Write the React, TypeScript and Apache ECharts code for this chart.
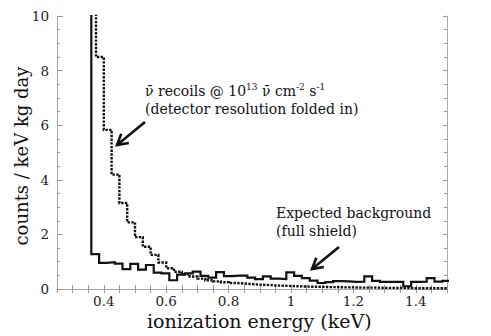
import React, { useEffect, useRef } from "react";
import * as echarts from "echarts";

// ---- data ----
const binWidth = 0.025;
// expected background (solid), bins start at 0.36 keV
const solidStart = 0.36;
const solidLead = 30; // off-scale bin just below threshold
const solidValues = [
  1.28, 0.96, 0.98, 0.93, 0.73, 0.92, 0.71, 0.88, 0.6, 0.57,
  0.32, 0.53, 0.57, 0.64, 0.48, 0.42, 0.62, 0.47, 0.49, 0.49,
  0.42, 0.36, 0.46, 0.38, 0.36, 0.61, 0.48, 0.4, 0.31, 0.22,
  0.25, 0.29, 0.28, 0.26, 0.27, 0.46, 0.3, 0.26, 0.26, 0.26,
  0.1, 0.26, 0.27, 0.4, 0.27, 0.3,
];
// antineutrino recoils (dotted), bins start at 0.375 keV
const dottedStart = 0.375;
const dottedLead = 30;
const dottedValues = [
  8.5, 5.83, 4.19, 3.15, 2.44, 1.9, 1.55, 1.25, 0.97, 0.76,
  0.63, 0.54, 0.46, 0.38, 0.32,
  0.28, 0.25, 0.22, 0.2, 0.18, 0.16, 0.15, 0.13, 0.12, 0.11,
  0.1, 0.09, 0.08, 0.08, 0.07, 0.07, 0.06, 0.06, 0.05, 0.05,
  0.05, 0.04, 0.04, 0.04, 0.04, 0.03, 0.03, 0.03, 0.03, 0.03,
];
const xLabels = [0.4, 0.6, 0.8, 1, 1.2, 1.4];
const yTicks = [0, 2, 4, 6, 8, 10];

const FONT = "DejaVu Serif";
const INK = "#111";

function stepData(start: number, lead: number, values: number[]) {
  const pts: number[][] = [[+(start - binWidth).toFixed(4), lead]];
  values.forEach((v, i) => pts.push([+(start + i * binWidth).toFixed(4), v]));
  pts.push([+(start + values.length * binWidth).toFixed(4), values[values.length - 1]]);
  return pts;
}

function arrow(x1: number, y1: number, x2: number, y2: number, len: number) {
  const dx = x2 - x1;
  const dy = y2 - y1;
  const L = Math.hypot(dx, dy);
  const bx = -dx / L;
  const by = -dy / L;
  const a = Math.PI / 6;
  const w1 = [x2 + len * (bx * Math.cos(a) - by * Math.sin(a)), y2 + len * (bx * Math.sin(a) + by * Math.cos(a))];
  const w2 = [x2 + len * (bx * Math.cos(a) + by * Math.sin(a)), y2 + len * (-bx * Math.sin(a) + by * Math.cos(a))];
  const style = { stroke: INK, lineWidth: 2.6, fill: "none", lineCap: "butt" as const };
  return [
    { type: "line", shape: { x1, y1, x2, y2 }, style },
    { type: "polyline", shape: { points: [w1, [x2, y2], w2] }, style },
  ];
}

const xFormatter = (v: number) => {
  const r = Math.round(v * 100);
  const hit = xLabels.some((l) => Math.round(l * 100) === r);
  return hit ? String(Math.round(v * 10) / 10) : "";
};

export default function App() {
  const ref = useRef<HTMLDivElement>(null);
  useEffect(() => {
    if (!ref.current) return;
    const chart = echarts.init(ref.current, undefined, { renderer: "svg" });
    const axisLine = { show: true, lineStyle: { color: "#aaa", width: 1 } };
    const tickStyle = { color: "#999", width: 1 };
    const labelStyle = { fontFamily: FONT, fontSize: 13.5, color: "#222", lineHeight: 14 };
    chart.setOption({
      animation: false,
      backgroundColor: "#fff",
      grid: { left: 57, right: 44, top: 16, bottom: 47 },
      xAxis: [
        {
          type: "value",
          min: 0.25,
          max: 1.5,
          interval: 0.05,
          position: "bottom",
          axisLine,
          axisTick: { show: true, inside: true, length: 4, lineStyle: tickStyle },
          axisLabel: { ...labelStyle, margin: 5, formatter: xFormatter, showMinLabel: true, showMaxLabel: true },
          splitLine: { show: false },
        },
        {
          type: "value",
          min: 0.25,
          max: 1.5,
          interval: 0.05,
          position: "top",
          axisLine,
          axisTick: { show: true, inside: true, length: 4, lineStyle: tickStyle },
          axisLabel: { show: false },
          splitLine: { show: false },
        },
      ],
      yAxis: [
        {
          type: "value",
          min: yTicks[0],
          max: yTicks[yTicks.length - 1],
          interval: 2,
          position: "left",
          axisLine,
          axisTick: { show: true, inside: true, length: 6, lineStyle: tickStyle },
          minorTick: { show: true, splitNumber: 4, length: 3, lineStyle: tickStyle },
          axisLabel: { ...labelStyle, margin: 8 },
          splitLine: { show: false },
        },
        {
          type: "value",
          min: yTicks[0],
          max: yTicks[yTicks.length - 1],
          interval: 2,
          position: "right",
          axisLine,
          axisTick: { show: true, inside: true, length: 4, lineStyle: tickStyle },
          minorTick: { show: true, splitNumber: 4, length: 3, lineStyle: tickStyle },
          axisLabel: { show: false },
          splitLine: { show: false },
        },
      ],
      series: [
        {
          name: "Expected background",
          type: "line",
          step: "end",
          xAxisIndex: 0,
          yAxisIndex: 0,
          symbol: "none",
          clip: true,
          data: stepData(solidStart, solidLead, solidValues),
          lineStyle: { color: INK, width: 2.2, cap: "butt", join: "miter" },
          z: 3,
        },
        {
          name: "recoils",
          type: "line",
          step: "end",
          xAxisIndex: 0,
          yAxisIndex: 0,
          symbol: "none",
          clip: true,
          data: stepData(dottedStart, dottedLead, dottedValues),
          lineStyle: { color: INK, width: 2.4, type: [2.4, 1.3], cap: "butt", join: "miter" },
          z: 2,
        },
      ],
      graphic: [
        {
          type: "text",
          x: 147,
          y: 321,
          style: { text: "ionization energy (keV)", font: `19px "${FONT}"`, fill: INK, verticalAlign: "middle", align: "left" },
        },
        {
          type: "text",
          x: 21,
          y: 156,
          rotation: Math.PI / 2,
          style: { text: "counts / keV kg day", font: `18px "${FONT}"`, fill: INK, verticalAlign: "middle", align: "center" },
        },
        {
          type: "text",
          x: 145,
          y: 82,
          style: {
            text:
              "{t|ν̄ recoils @ 10}{s|13}{t| ν̄ cm}{s|-2}{t| s}{s|-1}\n{t|(detector resolution folded in)}",
            align: "left",
            verticalAlign: "top",
            rich: {
              t: { fontFamily: FONT, fontSize: 14, lineHeight: 18, fill: INK, color: INK, verticalAlign: "middle" },
              s: { fontFamily: FONT, fontSize: 9, lineHeight: 11, fill: INK, color: INK, verticalAlign: "top" },
            },
          },
        },
        {
          type: "text",
          x: 276,
          y: 204,
          style: {
            text: "Expected background\n(full shield)",
            font: `14px "${FONT}"`,
            lineHeight: 18,
            fill: INK,
            align: "left",
            verticalAlign: "top",
          },
        },
        ...arrow(145, 122, 117, 145, 12),
        ...arrow(339, 247, 312, 269, 12),
      ],
    });
    return () => chart.dispose();
  }, []);
  return (
    <div
      ref={ref}
      style={{ position: "fixed", left: 0, top: 0, width: 491, height: 336, background: "#fff" }}
    />
  );
}
